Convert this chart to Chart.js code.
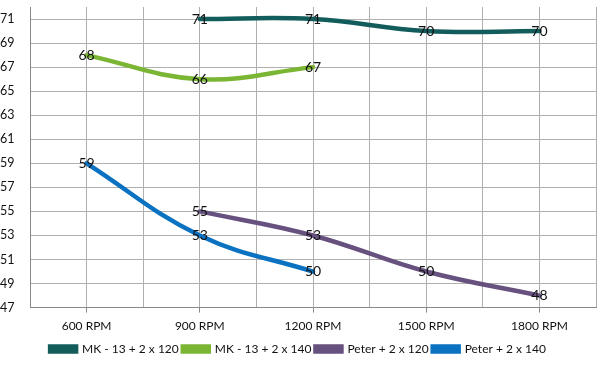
<!DOCTYPE html>
<html><head><meta charset="utf-8">
<script src="https://cdn.jsdelivr.net/npm/chart.js@4"></script>
<style>html,body{margin:0;padding:0;background:#fff}#wrap{width:599px;height:365px}</style>
</head><body><div id="wrap"><canvas id="c" width="599" height="365"></canvas></div>
<script>
const categories = ['600 RPM','900 RPM','1200 RPM','1500 RPM','1800 RPM'];
const mk120 = [null, 71, 71, 70, 70];
const mk140 = [68, 66, 67, null, null];
const peter120 = [null, 55, 53, 50, 48];
const peter140 = [59, 53, 50, null, null];
const yTicks = [47,49,51,53,55,57,59,61,63,65,67,69,71];
const seriesNames = ['MK - 13 + 2 x 120','MK - 13 + 2 x 140','Peter + 2 x 120','Peter + 2 x 140'];
const colors = ['#135c5c','#7bb534','#66517f','#0b72c2'];

const FONT = 'Lato, "Open Sans", sans-serif';
const gridColor = '#b0b0b0';

const labelPlugin = {
  id:'labels',
  afterDatasetsDraw(chart){
    const ctx = chart.ctx;
    ctx.save();
    ctx.font = '14px ' + FONT;
    ctx.fillStyle = '#111';
    ctx.textAlign = 'center';
    ctx.textBaseline = 'middle';
    chart.data.datasets.forEach((ds, i) => {
      const meta = chart.getDatasetMeta(i);
      meta.data.forEach((pt, j) => {
        const v = ds.data[j];
        if (v === null || v === undefined) return;
        ctx.fillText(String(v), pt.x, pt.y);
      });
    });
    ctx.restore();
  }
};

const mk = (name, data, color) => ({
  label: name, data, borderColor: color, backgroundColor: color,
  borderWidth: 4.5, pointRadius: 0, tension: 0.4, spanGaps: false,
  borderCapStyle: 'round', fill: false
});

new Chart(document.getElementById('c'), {
  type: 'line',
  data: {
    labels: categories,
    datasets: [
      mk(seriesNames[0], mk120, colors[0]),
      mk(seriesNames[1], mk140, colors[1]),
      mk(seriesNames[2], peter120, colors[2]),
      mk(seriesNames[3], peter140, colors[3])
    ]
  },
  options: {
    responsive: false, animation: false,
    layout: { padding: { top: 0, right: 3, left: 0, bottom: 0 } },
    plugins: {
      legend: {
        position: 'bottom',
        labels: {
          font: { family: FONT, size: 12 }, color: '#111',
          boxWidth: 26, boxHeight: 5, padding: 4
        }
      },
      tooltip: { enabled: false }
    },
    scales: {
      x: {
        type: 'category', offset: true,
        grid: { offset: false, color: gridColor, tickLength: 5, tickColor: '#888' },
        border: { color: '#888' },
        ticks: { font: { family: FONT, size: 12 }, color: '#111', padding: 6, maxRotation: 0 }
      },
      x2: {
        type: 'category', labels: categories, offset: true, position: 'bottom',
        grid: { offset: true, color: gridColor, drawTicks: false },
        border: { display: false },
        ticks: { display: false },
        afterFit(s){ s.height = 0; }
      },
      y: {
        min: 47, max: 72,
        afterBuildTicks(s){ s.ticks = yTicks.map(v => ({ value: v })); },
        afterFit(s){ s.width = 30; s.paddingTop = 7; s.paddingBottom = 0; },
        grid: { color: gridColor, drawTicks: false },
        border: { color: '#888' },
        ticks: { font: { family: FONT, size: 12.5 }, color: '#111', crossAlign: 'far', padding: 8 }
      }
    }
  },
  plugins: [labelPlugin]
});
</script></body></html>
